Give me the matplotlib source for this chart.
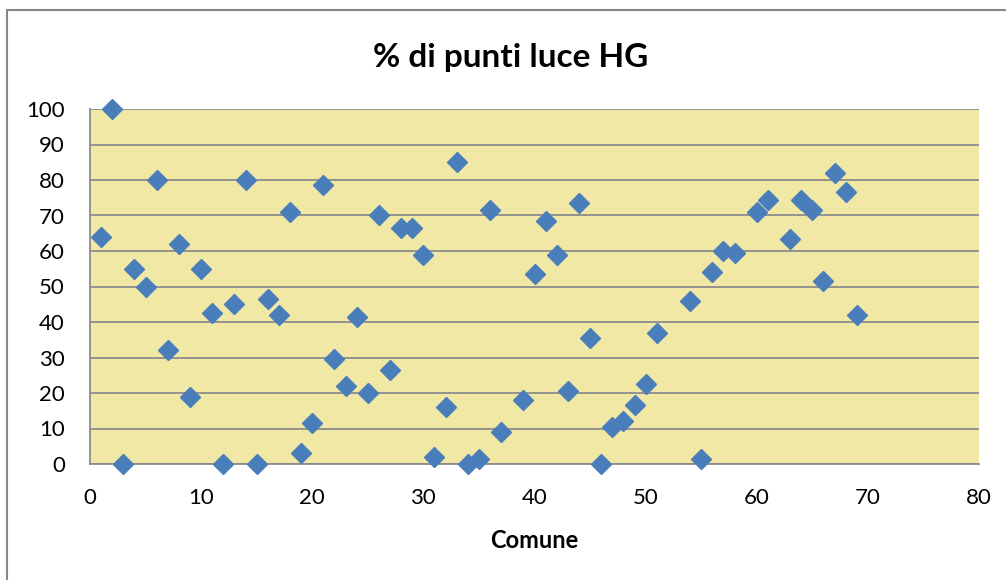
import matplotlib
matplotlib.use("Agg")
import matplotlib.pyplot as plt
from matplotlib.patches import Rectangle

# comune number and % of HG light points
comune = [1, 2, 3, 4, 5, 6, 7, 8, 9, 10,
          11, 12, 13, 14, 15, 16, 17, 18, 19, 20,
          21, 22, 23, 24, 25, 26, 27, 28, 29, 30,
          31, 32, 33, 34, 35, 36, 37, 39, 40,
          41, 42, 43, 44, 45, 46, 47, 48, 49, 50,
          51, 54, 55, 56, 57, 58, 60,
          61, 63, 64, 65, 66, 67, 68, 69]
perc_hg = [64, 100, 0, 55, 50, 80, 32, 62, 19, 55,
           42.5, 0, 45, 80, 0, 46.5, 42, 71, 3, 11.5,
           78.5, 29.5, 22, 41.5, 20, 70, 26.5, 66.5, 66.5, 59,
           2, 16, 85, 0, 1.5, 71.5, 9, 18, 53.5,
           68.5, 59, 20.5, 73.5, 35.5, 0, 10.5, 12, 16.5, 22.5,
           37, 46, 1.5, 54, 60, 59.5, 71,
           74.5, 63.5, 74.5, 71.5, 51.5, 82, 76.5, 42]

xticks = [0, 10, 20, 30, 40, 50, 60, 70, 80]
yticks = [0, 10, 20, 30, 40, 50, 60, 70, 80, 90, 100]

plt.rcParams['font.family'] = ['Lato', 'DejaVu Sans']

fig = plt.figure(figsize=(10.06, 5.8), dpi=100)
ax = fig.add_axes([90/1006, 1 - 464/580, 889/1006, 355/580])

# outer chart border (right and bottom sides run off the picture)
fig.patches.append(Rectangle((7/1006, -0.1), 1.1, 1.1 - 10/580, transform=fig.transFigure,
                             fill=False, edgecolor='#878787', linewidth=1.5))

ax.set_facecolor('#F2E8A6')
ax.plot(comune, perc_hg, linestyle='none', marker='D', markersize=10.5,
        color='#4A7EBB', clip_on=False, zorder=3)

ax.set_xlim(0, 80)
ax.set_ylim(0, 100)
ax.set_xticks(xticks)
ax.set_yticks(yticks)
ax.tick_params(length=0, labelsize=16, colors='#000000')
ax.tick_params(axis='x', pad=17)
ax.tick_params(axis='y', pad=18)
ax.grid(axis='y', color='#8C8C8C', linewidth=1.3)
ax.set_axisbelow(True)

for s in ['top', 'right']:
    ax.spines[s].set_visible(False)
for s in ['left', 'bottom']:
    ax.spines[s].set_color('#8C8C8C')
    ax.spines[s].set_linewidth(1.3)

fig.text(511/1006, 1 - 57/580, "% di punti luce HG", fontweight='bold', fontsize=24,
         ha='center', va='center')
fig.text(534/1006, 1 - 540/580, "Comune", fontweight='bold', fontsize=17,
         ha='center', va='center')

plt.savefig("out.png", dpi=100)
